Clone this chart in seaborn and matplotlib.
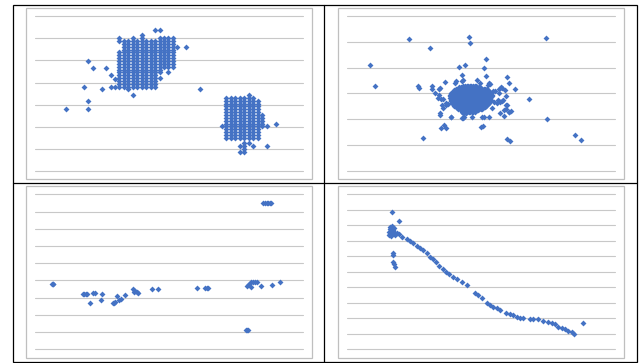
import numpy as np
import pandas as pd
import seaborn as sns
import matplotlib.pyplot as plt
from matplotlib.patches import Rectangle

BLUE = '#4472C4'
GRID = '#C8C8C8'
W, H = 643, 363

# ---- panel 1: two lattice clusters (column index, lowest row, highest row)
p1_cols = [19, 20, 21, 22, 23, 24, 25, 26, 27, 28, 29, 30, 31]
p1_lo = [30, 30, 29, 30, 30, 30, 30, 30, 30, 35, 37, 37, 37]
p1_hi = [42, 46, 46, 47, 46, 48, 46, 46, 46, 47, 47, 47, 47]
p1b_cols = [43, 44, 45, 46, 47, 48, 49, 50, 51]
p1b_lo = [12, 12, 12, 12, 12, 12, 12, 12, 16]
p1b_hi = [26, 26, 26, 26, 26, 27, 26, 25, 20]
p1_extra_x = [19, 19, 22, 27, 28, 28, 30, 32, 34, 12, 13, 16, 17, 18, 11, 15, 17, 18,
              12, 7, 12, 37, 42, 46, 46, 47, 47, 47, 47, 48, 49, 52, 52, 54]
p1_extra_y = [46, 47, 27, 50, 50, 33, 35, 44, 44, 39, 36.5, 36.5, 34, 32.6, 30, 29, 30, 30,
              25, 22, 22, 29, 16, 9, 7, 10, 9, 8, 7, 10, 9, 9, 16, 17]

# ---- panel 2: dense core (row y, left x, right x) plus scattered points
p2_core_y = [3.30, 3.24, 3.18, 3.12, 3.06, 3.00, 2.94, 2.88, 2.82, 2.76,
             2.70, 2.64, 2.58, 2.52, 2.46, 2.40, 2.34, 2.28, 2.22]
p2_core_x0 = [4.35, 4.20, 4.08, 4.00, 3.95, 3.90, 3.84, 3.84, 3.86, 3.88,
              3.88, 3.92, 3.95, 4.00, 4.08, 4.15, 4.25, 4.30, 4.32]
p2_core_x1 = [4.85, 5.00, 5.22, 5.30, 5.36, 5.38, 5.40, 5.40, 5.40, 5.38,
              5.36, 5.32, 5.28, 5.22, 5.16, 5.05, 4.92, 4.80, 4.45]
p2_x = [0.85, 1.05, 2.33, 3.11, 4.56, 4.59, 7.44, 2.66, 2.69, 3.16, 3.19, 2.85, 5.20, 5.11,
        5.18, 4.20, 4.40, 4.28, 4.08, 4.31, 3.65, 5.99, 6.04, 6.29, 6.80, 7.48, 5.97, 6.08,
        8.53, 8.73, 5.02, 3.51, 3.63, 3.70, 3.49, 3.88, 4.30, 4.38, 5.11, 5.29, 5.70, 5.86,
        6.04, 6.14, 5.94, 5.95, 5.79, 5.64, 5.95, 5.49, 3.41, 3.50, 3.45, 3.57, 3.77, 3.71,
        5.69, 5.74, 5.32, 5.27, 5.52, 3.47, 3.29, 3.45, 3.60, 3.70, 3.54, 3.47, 3.87, 4.34,
        4.66, 5.03, 5.09, 5.40, 5.59, 5.71, 5.84, 5.99, 5.86, 6.05, 5.78, 5.90, 5.34, 5.46,
        5.68, 4.02, 4.34, 4.84, 4.97]
p2_y = [4.09, 3.27, 5.11, 4.76, 5.20, 4.94, 5.16, 3.30, 3.22, 3.27, 3.18, 1.28, 4.32, 3.97,
        3.69, 4.03, 4.09, 3.72, 3.47, 3.49, 3.43, 3.62, 3.39, 3.17, 2.79, 1.99, 1.24, 1.14,
        1.37, 1.20, 1.71, 1.64, 1.76, 1.64, 2.17, 2.08, 2.03, 2.07, 2.08, 2.07, 2.23, 2.13,
        2.28, 2.33, 2.55, 2.38, 2.70, 2.74, 2.90, 2.66, 2.83, 2.77, 3.16, 2.43, 2.58, 2.55,
        3.16, 3.24, 3.39, 3.31, 3.10, 3.20, 3.03, 2.94, 2.77, 2.61, 2.55, 2.23, 2.09, 2.03,
        2.09, 2.09, 1.73, 2.42, 2.61, 2.68, 2.74, 2.55, 2.35, 2.29, 3.20, 3.13, 3.36, 3.10,
        3.00, 3.39, 3.52, 3.52, 3.41]

# ---- panel 3
p3_x = [0.64, 0.68, 0.66, 1.78, 1.84, 1.90, 1.95, 2.18, 2.23, 2.06, 2.49, 2.46, 2.90, 2.95,
        3.00, 3.07, 3.15, 3.20, 3.36, 3.67, 3.72, 3.79, 3.86, 3.70, 4.35, 4.59, 6.06, 6.34,
        6.40, 6.47, 7.88, 7.93, 7.90, 7.92, 8.05, 8.05, 8.12, 8.20, 8.27, 8.00, 8.43, 8.84,
        9.14, 8.52, 8.58, 8.64, 8.70, 8.76, 8.79]
p3_y = [3.81, 3.81, 3.78, 3.23, 3.23, 3.23, 3.23, 3.27, 3.27, 2.69, 3.21, 2.88, 2.71, 2.71,
        2.73, 3.08, 2.88, 2.94, 3.13, 3.48, 3.40, 3.33, 3.29, 3.30, 3.48, 3.48, 3.58, 3.58,
        3.58, 3.58, 1.14, 1.14, 1.12, 3.66, 3.62, 3.91, 3.91, 3.91, 3.91, 3.80, 3.69, 3.75,
        3.89, 8.50, 8.50, 8.50, 8.50, 8.50, 8.50]

# ---- panel 4
p4_x = [1.67, 1.95, 1.56, 1.60, 1.62, 1.60, 1.65, 1.70, 1.72, 1.68, 1.76, 1.78, 1.58, 1.66,
        1.74, 1.86, 1.95, 2.04, 1.71, 1.71, 1.73, 1.76, 1.78, 2.23, 2.35, 2.48, 2.63, 2.73,
        2.85, 2.98, 3.10, 3.20, 3.32, 3.45, 3.57, 3.70, 3.82, 3.97, 4.12, 4.30, 4.48, 4.79,
        4.89, 5.03, 5.22, 5.34, 5.47, 5.59, 5.72, 5.94, 6.09, 6.21, 6.34, 6.46, 6.59, 6.84,
        6.96, 7.15, 7.33, 7.52, 7.65, 7.77, 7.89, 8.02, 8.14, 8.27, 8.39, 8.48, 8.80]
p4_y = [8.84, 8.30, 7.60, 7.75, 7.90, 7.45, 7.30, 7.50, 7.70, 7.95, 7.60, 7.40, 7.35, 7.60,
        7.85, 7.48, 7.42, 7.26, 6.19, 6.08, 5.65, 5.48, 5.33, 7.10, 6.99, 6.88, 6.68, 6.55,
        6.41, 6.19, 5.97, 5.83, 5.61, 5.39, 5.18, 5.01, 4.84, 4.66, 4.54, 4.34, 4.13, 3.65,
        3.52, 3.29, 2.97, 2.86, 2.75, 2.65, 2.54, 2.36, 2.28, 2.19, 2.10, 2.04, 2.00, 1.97,
        1.97, 1.94, 1.85, 1.78, 1.68, 1.61, 1.46, 1.35, 1.29, 1.20, 1.10, 0.99, 1.72]


def lattice(cols, lo, hi):
    """Expand column ranges into individual lattice points"""
    xs, ys = [], []
    for k, a, b in zip(cols, lo, hi):
        for r in range(a, b + 1):
            xs.append(k)
            ys.append(r)
    return xs, ys


def core_points(ys, x0s, x1s, step=0.06):
    """Fill each read-off row span of the dense core with markers"""
    xs, out_y = [], []
    for y, a, b in zip(ys, x0s, x1s):
        for x in np.arange(a, b + 1e-9, step):
            xs.append(x)
            out_y.append(y)
    return xs, out_y


def make_panel(fig, px0, px1, py_top, py_bot, xlim, ylim, n_grid, pad=3):
    """Add an axes whose plot area sits at the given pixel box"""
    dx = (xlim[1] - xlim[0]) / (px1 - px0)
    dy = (ylim[1] - ylim[0]) / (py_bot - py_top)
    ax = fig.add_axes([(px0 - pad) / W, (H - py_bot - pad) / H,
                       (px1 - px0 + 2 * pad) / W, (py_bot - py_top + 2 * pad) / H])
    ax.set_xlim(xlim[0] - pad * dx, xlim[1] + pad * dx)
    ax.set_ylim(ylim[0] - pad * dy, ylim[1] + pad * dy)
    ax.patch.set_alpha(0)
    for s in ax.spines.values():
        s.set_visible(False)
    ax.set_xticks([])
    ax.set_yticks([])
    for g in np.linspace(ylim[0], ylim[1], n_grid):
        ax.plot([xlim[0], xlim[1]], [g, g], color=GRID, lw=0.8, zorder=0)
    return ax


def scatter(ax, xs, ys):
    df = pd.DataFrame({'x': xs, 'y': ys})
    sns.scatterplot(data=df, x='x', y='y', ax=ax, color=BLUE, marker='D',
                    s=9, linewidth=0, legend=False, zorder=3)
    ax.set_xlabel('')
    ax.set_ylabel('')


def box(fig, x0, y0, x1, y1, color, lw):
    fig.add_artist(Rectangle((x0 / W, (H - y1) / H), (x1 - x0) / W, (y1 - y0) / H,
                             transform=fig.transFigure, fill=False, edgecolor=color, lw=lw))


def main():
    sns.set_theme(style="white")
    plt.rcParams['font.family'] = ['DejaVu Sans']

    fig = plt.figure(figsize=(W / 100, H / 100), dpi=100)
    fig.patch.set_facecolor('white')

    # frames
    box(fig, 12.5, 4.5, 636.5, 362, 'black', 0.9)
    fig.add_artist(plt.Line2D([324.5 / W, 324.5 / W], [1 - 4.5 / H, 1 - 362 / H],
                              transform=fig.transFigure, color='black', lw=0.9))
    fig.add_artist(plt.Line2D([12.5 / W, 636.5 / W], [1 - 182.5 / H, 1 - 182.5 / H],
                              transform=fig.transFigure, color='black', lw=0.9))
    for x0, y0, x1, y1 in [(26, 8, 312, 179), (338, 8, 624, 179),
                           (26, 186, 312, 358), (338, 186, 624, 358)]:
        box(fig, x0, y0, x1, y1, '#BFBFBF', 0.9)

    # panel 1
    ax1 = make_panel(fig, 35, 303, 16, 171.3, (0.07, 60.16), (0.17, 54.85), 8)
    xa, ya = lattice(p1_cols, p1_lo, p1_hi)
    xb, yb = lattice(p1b_cols, p1b_lo, p1b_hi)
    scatter(ax1, xa + xb + p1_extra_x, ya + yb + p1_extra_y)

    # panel 2
    ax2 = make_panel(fig, 347, 614.7, 16, 170.7, (0, 10), (0, 6), 7)
    cx, cy = core_points(p2_core_y, p2_core_x0, p2_core_x1)
    scatter(ax2, cx + p2_x, cy + p2_y)

    # panel 3
    ax3 = make_panel(fig, 35, 303, 194.3, 349.3, (0, 10), (0, 9), 10)
    scatter(ax3, p3_x, p3_y)

    # panel 4
    ax4 = make_panel(fig, 347, 614.7, 194.3, 349.3, (0, 10), (0, 10), 11)
    scatter(ax4, p4_x, p4_y)

    fig.savefig('out.png', dpi=100)
    plt.close()


if __name__ == "__main__":
    main()
